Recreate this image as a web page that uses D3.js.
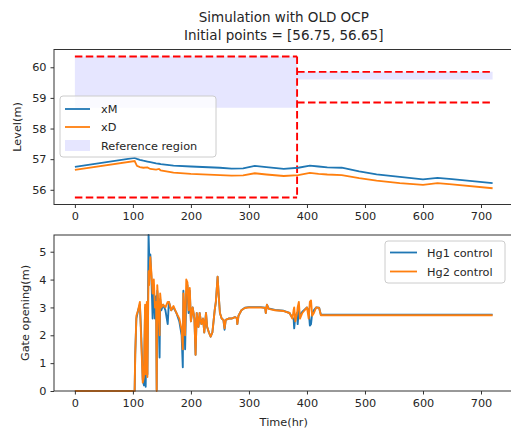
<!DOCTYPE html>
<html>
<head>
<meta charset="utf-8">
<script src="https://cdn.jsdelivr.net/npm/d3@7"></script>
<style>
  html, body { margin: 0; padding: 0; background: #fff; }
  svg { display: block; }
  text { font-family: "DejaVu Sans", sans-serif; fill: #262626; }
</style>
</head>
<body>
<svg id="chart" width="511" height="432"></svg>
<script>
// ---- Level data (hours, metres) ----
const levelTime = [0, 103, 107, 112, 118, 125, 130, 140, 145, 148, 170, 200, 250, 270, 290, 310, 330, 360, 385, 405, 420, 435, 460, 490, 520, 560, 600, 625, 650, 720];
const xM = [56.75, 57.04, 57.01, 56.98, 56.95, 56.92, 56.9, 56.86, 56.85, 56.84, 56.79, 56.76, 56.72, 56.69, 56.7, 56.78, 56.74, 56.68, 56.72, 56.79, 56.76, 56.73, 56.72, 56.6, 56.5, 56.42, 56.34, 56.39, 56.35, 56.22];
const xD = [56.65, 56.94, 56.78, 56.74, 56.72, 56.73, 56.68, 56.66, 56.68, 56.63, 56.56, 56.52, 56.48, 56.46, 56.47, 56.54, 56.5, 56.45, 56.48, 56.55, 56.52, 56.5, 56.48, 56.38, 56.3, 56.22, 56.16, 56.22, 56.18, 56.05];

// ---- Reference region: two periods split at t = 383 ----
const periodStart = [0, 383];
const periodEnd = [383, 720];
const refUpper = [60.35, 59.85];
const refLower = [55.75, 58.85];
const fillLow = [58.68, 59.6];
const fillHigh = [60.35, 59.85];

// ---- Gate opening data (hours, metres) ----
const gateTime = [0, 103, 104, 106, 109, 112, 114, 117, 119, 121, 122, 124, 125, 127, 128, 130, 132, 134, 136, 138, 140, 141, 142, 144, 146, 147, 149, 152, 156, 160, 162, 166, 170, 175, 180, 184, 186, 187, 189, 190, 192, 194, 196, 198, 200, 203, 206, 208, 210, 213, 215, 218, 221, 223, 226, 228, 231, 234, 237, 239, 241, 243, 246, 248, 250, 253, 256, 258, 260, 265, 270, 276, 279, 280, 282, 287, 293, 300, 320, 328, 329, 331, 334, 345, 360, 370, 375, 377, 378, 380, 383, 384, 386, 388, 392, 400, 403, 405, 407, 409, 412, 416, 421, 424, 720];
const hg1 = [0, 0, 1.3, 2.6, 2.9, 3.1, 2.2, 0.4, 0.2, 3.0, 0.15, 3.0, 0.6, 5.6, 4.9, 4.9, 4.0, 2.6, 3.8, 2.6, 3.4, 0.05, 3.6, 3.0, 1.2, 3.3, 2.9, 3.1, 2.9, 2.4, 3.2, 2.9, 3.0, 2.8, 2.5, 2.0, 0.85, 3.6, 2.2, 1.5, 3.4, 3.8, 2.8, 3.6, 2.5, 3.0, 2.6, 1.3, 2.8, 2.3, 2.8, 2.4, 2.6, 2.1, 2.8, 2.3, 2.1, 1.95, 2.1, 2.5, 2.9, 3.2, 4.1, 3.4, 2.8, 2.6, 2.55, 2.2, 2.55, 2.6, 2.6, 2.65, 2.62, 2.4, 2.7, 2.9, 2.99, 3.01, 3.01, 2.99, 2.8, 3.1, 2.96, 2.91, 2.88, 2.8, 2.62, 2.6, 2.25, 2.7, 2.8, 2.4, 2.9, 2.7, 2.85, 3.0, 2.9, 2.35, 2.4, 2.8, 2.9, 3.0, 2.99, 2.74, 2.74];
const hg2 = [0, 0, 1.3, 2.7, 2.9, 3.2, 2.0, 0.3, 0.5, 3.1, 0.6, 3.2, 0.5, 4.3, 3.8, 4.8, 4.2, 3.5, 4.0, 3.0, 3.2, 0.0, 3.8, 3.0, 2.0, 3.5, 3.0, 3.1, 3.0, 3.2, 3.2, 2.9, 3.05, 2.8, 2.6, 2.2, 1.5, 3.5, 2.8, 2.0, 4.0, 3.9, 2.9, 3.7, 2.5, 3.0, 2.6, 1.3, 2.8, 2.3, 2.8, 2.4, 2.6, 2.1, 2.8, 2.3, 2.1, 1.95, 2.1, 2.5, 2.9, 3.2, 4.1, 3.4, 2.8, 2.6, 2.55, 2.25, 2.55, 2.6, 2.6, 2.65, 2.62, 2.4, 2.7, 2.9, 2.98, 3.0, 3.0, 2.98, 2.8, 3.1, 2.95, 2.9, 2.87, 2.8, 2.6, 2.9, 3.0, 2.5, 2.8, 3.0, 3.2, 2.6, 2.8, 3.0, 2.6, 3.2, 3.25, 2.7, 2.8, 3.0, 2.98, 2.72, 2.72];

// ---- Ticks and labels ----
const timeTicks = [0, 100, 200, 300, 400, 500, 600, 700];
const levelTicks = [56, 57, 58, 59, 60];
const gateTicks = [0, 1, 2, 3, 4, 5];
const titleLines = ["Simulation with OLD OCP", "Initial points = [56.75, 56.65]"];

const BLUE = "#1f77b4", ORANGE = "#ff7f0e", RED = "#ff0000", FILL = "#e6e6ff";

const svg = d3.select("#chart");
const left = 54, right = 513.5;

// shared time axis scale
const xScale = d3.scaleLinear().domain([-36, 756]).range([left, right]);

function frame(g, top, bottom) {
  g.append("rect")
    .attr("x", left).attr("y", top)
    .attr("width", right - left).attr("height", bottom - top)
    .attr("fill", "none").attr("stroke", "#333").attr("stroke-width", 1);
}

function axes(g, y, yTicks, top, bottom) {
  const xa = g.append("g").attr("transform", `translate(0,${bottom})`)
    .call(d3.axisBottom(xScale).tickValues(timeTicks).tickSize(3.5).tickPadding(4).tickFormat(d3.format("d")));
  const ya = g.append("g").attr("transform", `translate(${left},0)`)
    .call(d3.axisLeft(y).tickValues(yTicks).tickSize(3.5).tickPadding(4).tickFormat(d3.format("d")));
  [xa, ya].forEach(a => {
    a.select(".domain").remove();
    a.selectAll("line").attr("stroke", "#333");
    a.selectAll("text").attr("font-size", 11.3).attr("font-family", "DejaVu Sans").attr("fill", "#262626");
  });
}

// ================= Top panel: levels =================
const topY0 = 49.5, topY1 = 204.5;
const yTop = d3.scaleLinear().domain([55.52, 60.58]).range([topY1, topY0]);
const gTop = svg.append("g");
const lineTop = d3.line().x(d => xScale(d[0])).y(d => yTop(d[1]));

// shaded band per period
periodStart.forEach((t0, i) => {
  const t1 = periodEnd[i];
  gTop.append("path")
    .datum([[t0, fillLow[i], fillHigh[i]], [t1, fillLow[i], fillHigh[i]]])
    .attr("fill", FILL)
    .attr("d", d3.area().x(d => xScale(d[0])).y0(d => yTop(d[1])).y1(d => yTop(d[2])));
});

// dashed boundaries of the reference region
const dash = "7.5,3.4";
function dashed(pts) {
  gTop.append("path").datum(pts).attr("d", lineTop).attr("fill", "none")
    .attr("stroke", RED).attr("stroke-width", 1.9).attr("stroke-dasharray", dash);
}
periodStart.forEach((t0, i) => {
  dashed([[t0, refUpper[i]], [periodEnd[i], refUpper[i]]]);
  dashed([[t0, refLower[i]], [periodEnd[i], refLower[i]]]);
});
dashed([[periodStart[1], d3.max(refUpper)], [periodStart[1], d3.min(refLower)]]);

gTop.append("path").datum(levelTime.map((t, i) => [t, xM[i]]))
  .attr("d", lineTop).attr("fill", "none").attr("stroke", BLUE).attr("stroke-width", 1.8);
gTop.append("path").datum(levelTime.map((t, i) => [t, xD[i]]))
  .attr("d", lineTop).attr("fill", "none").attr("stroke", ORANGE).attr("stroke-width", 1.8);

frame(gTop, topY0, topY1);
axes(gTop, yTop, levelTicks, topY0, topY1);

// title
svg.append("text").attr("x", (left + right) / 2).attr("y", 21.5).attr("text-anchor", "middle")
  .attr("font-size", 13.5).text(titleLines[0]);
svg.append("text").attr("x", (left + right) / 2).attr("y", 39.5).attr("text-anchor", "middle")
  .attr("font-size", 13.5).text(titleLines[1]);

svg.append("text").attr("transform", `translate(21,${(topY0 + topY1) / 2}) rotate(-90)`)
  .attr("text-anchor", "middle").attr("font-size", 11.3).text("Level(m)");

// legend (top)
const lg1 = svg.append("g");
lg1.append("rect").attr("x", 60).attr("y", 96).attr("width", 156).attr("height", 61).attr("rx", 3)
  .attr("fill", "#fff").attr("fill-opacity", 0.8).attr("stroke", "#cccccc").attr("stroke-width", 1);
[["xM", BLUE, 109], ["xD", ORANGE, 127]].forEach(([name, c, yy]) => {
  lg1.append("line").attr("x1", 65).attr("x2", 90).attr("y1", yy).attr("y2", yy).attr("stroke", c).attr("stroke-width", 1.8);
  lg1.append("text").attr("x", 101).attr("y", yy + 4).attr("font-size", 11.3).text(name);
});
lg1.append("rect").attr("x", 65).attr("y", 140).attr("width", 25).attr("height", 11).attr("fill", FILL);
lg1.append("text").attr("x", 101).attr("y", 149.5).attr("font-size", 11.3).text("Reference region");

// ================= Bottom panel: gate opening =================
const botY0 = 235, botY1 = 391;
const yBot = d3.scaleLinear().domain([0, d3.max(hg1)]).range([botY1, botY0]);
const gBot = svg.append("g");
const lineBot = d3.line().x(d => xScale(d[0])).y(d => yBot(d[1]));

gBot.append("path").datum(gateTime.map((t, i) => [t, hg1[i]]))
  .attr("d", lineBot).attr("fill", "none").attr("stroke", BLUE).attr("stroke-width", 1.9).attr("stroke-linejoin", "round");
gBot.append("path").datum(gateTime.map((t, i) => [t, hg2[i]]))
  .attr("d", lineBot).attr("fill", "none").attr("stroke", ORANGE).attr("stroke-width", 1.9).attr("stroke-linejoin", "round");

frame(gBot, botY0, botY1);
axes(gBot, yBot, gateTicks, botY0, botY1);

svg.append("text").attr("transform", `translate(29,${(botY0 + botY1) / 2}) rotate(-90)`)
  .attr("text-anchor", "middle").attr("font-size", 11.3).text("Gate opening(m)");
svg.append("text").attr("x", (left + right) / 2).attr("y", 426).attr("text-anchor", "middle")
  .attr("font-size", 11.3).text("Time(hr)");

// legend (bottom)
const lg2 = svg.append("g");
lg2.append("rect").attr("x", 385).attr("y", 241).attr("width", 120).attr("height", 42).attr("rx", 3)
  .attr("fill", "#fff").attr("fill-opacity", 0.8).attr("stroke", "#cccccc").attr("stroke-width", 1);
[["Hg1 control", BLUE, 252.5], ["Hg2 control", ORANGE, 271.5]].forEach(([name, c, yy]) => {
  lg2.append("line").attr("x1", 390).attr("x2", 417).attr("y1", yy).attr("y2", yy).attr("stroke", c).attr("stroke-width", 1.8);
  lg2.append("text").attr("x", 427).attr("y", yy + 4).attr("font-size", 11.3).text(name);
});
</script>
</body>
</html>
